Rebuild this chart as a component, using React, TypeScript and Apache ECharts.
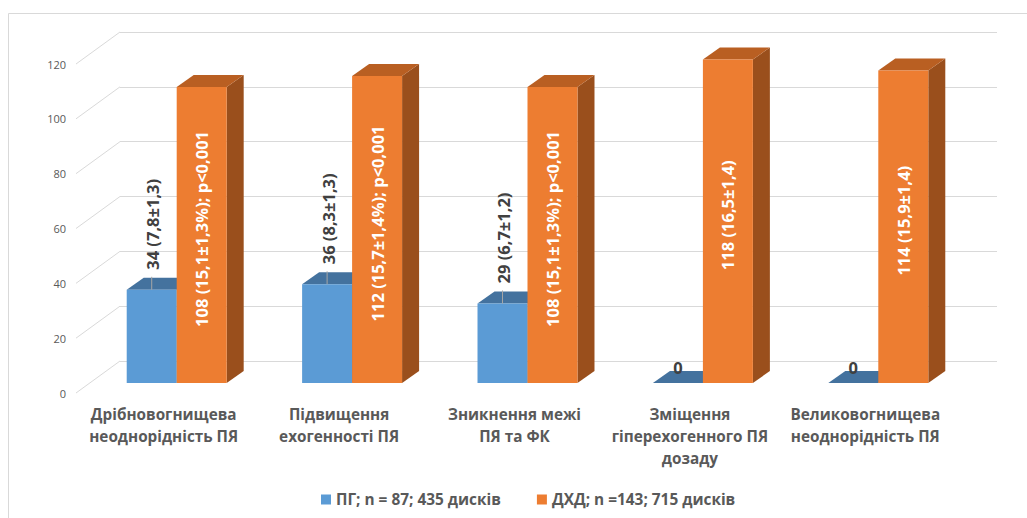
import React, { useEffect, useRef } from 'react';
import * as echarts from 'echarts';

// Ultrasound signs of the nucleus pulposus (ПЯ), counts per group
const categories = [
  'Дрібновогнищева\nнеоднорідність ПЯ',
  'Підвищення\nехогенності ПЯ',
  'Зникнення межі\nПЯ та ФК',
  'Зміщення\nгіперехогенного ПЯ\nдозаду',
  'Великовогнищева\nнеоднорідність ПЯ',
];
const seriesNames = ['ПГ; n = 87; 435 дисків', 'ДХД; n =143; 715 дисків'];
const pgValues = [34, 36, 29, 0, 0];
const pgLabels = ['34 (7,8±1,3)', '36 (8,3±1,3)', '29 (6,7±1,2)', '0', '0'];
const dhdValues = [108, 112, 108, 118, 114];
const dhdLabels = [
  '108 (15,1±1,3%); p<0,001',
  '112 (15,7±1,4%); p<0,001',
  '108 (15,1±1,3%); p<0,001',
  '118 (16,5±1,4)',
  '114 (15,9±1,4)',
];
const yTicks = [0, 20, 40, 60, 80, 100, 120];

const FONT = '"Open Sans", "Noto Sans", sans-serif';
const LABEL_FONT = `bold 16.5px ${FONT}`;
const GRID_LINE = '#d9d9d9';
const AXIS_TEXT = '#595959';

// 3D look: bar depth and wall depth offsets (oblique projection)
const BAR_FRACTION = 0.285;
const BAR_DX = 17;
const BAR_DY = -12;
const WALL_DX = -44;
const WALL_DY = 32;

const PLOT_W = 877;
const PLOT_H = 329;

const BLUE = { front: '#5B9BD5', top: '#44729E', side: '#3A6590' };
const ORANGE = { front: '#ED7D31', top: '#B95F22', side: '#9A4F1C' };

function barRenderer(colors: any, side: number, labels: string[], inside: boolean) {
  return (params: any, api: any) => {
    const idx = api.value(0);
    const v = api.value(1);
    const top = api.coord([idx, v]);
    const base = api.coord([idx, 0]);
    const w = api.size([1, 0])[0] * BAR_FRACTION;
    const x0 = side < 0 ? top[0] - w : top[0];
    const x1 = x0 + w;
    const yT = top[1];
    const yB = base[1];
    const cx = (x0 + x1) / 2;
    const children: any[] = [
      {
        type: 'polygon',
        shape: { points: [[x1, yB], [x1 + BAR_DX, yB + BAR_DY], [x1 + BAR_DX, yT + BAR_DY], [x1, yT]] },
        style: { fill: colors.side },
      },
      {
        type: 'polygon',
        shape: { points: [[x0, yT], [x0 + BAR_DX, yT + BAR_DY], [x1 + BAR_DX, yT + BAR_DY], [x1, yT]] },
        style: { fill: colors.top },
      },
    ];
    if (yB - yT > 0.5) {
      children.push({
        type: 'rect',
        shape: { x: x0, y: yT, width: w, height: yB - yT },
        style: { fill: colors.front },
      });
    }
    const text = labels[params.dataIndex];
    if (inside) {
      // centred on the box, including its depth
      children.push({
        type: 'text',
        x: cx,
        y: (yT + yB) / 2 + BAR_DY / 2,
        rotation: Math.PI / 2,
        style: {
          text,
          fill: '#ffffff',
          font: LABEL_FONT,
          align: 'center',
          verticalAlign: 'middle',
        },
      });
    } else if (v > 0) {
      children.push({
        type: 'line',
        shape: { x1: cx, y1: yT - 13, x2: cx, y2: yT },
        style: { stroke: '#a6a6a6', lineWidth: 1 },
      });
      children.push({
        type: 'text',
        x: cx + 1,
        y: yT - 20,
        rotation: Math.PI / 2,
        style: {
          text,
          fill: '#404040',
          font: LABEL_FONT,
          align: 'left',
          verticalAlign: 'middle',
        },
      });
    } else {
      children.push({
        type: 'text',
        x: cx,
        y: yT - 16,
        style: {
          text,
          fill: '#404040',
          font: LABEL_FONT,
          align: 'center',
          verticalAlign: 'middle',
        },
      });
    }
    return { type: 'group', children };
  };
}

function wallRenderer(params: any, api: any) {
  const p = api.coord([0, api.value(1)]);
  const x = params.coordSys.x;
  return {
    type: 'line',
    shape: { x1: x, y1: p[1], x2: x + WALL_DX, y2: p[1] + WALL_DY },
    style: { stroke: GRID_LINE, lineWidth: 1 },
  };
}

export default function App() {
  const ref = useRef<HTMLDivElement>(null);

  useEffect(() => {
    if (!ref.current) return;
    const chart = echarts.init(ref.current, null, { renderer: 'svg' });

    const valueAxis = (gridIndex: number, extra: any) => ({
      type: 'value',
      gridIndex,
      min: 0,
      max: 120,
      interval: 20,
      axisLine: { show: false },
      axisTick: { show: false },
      ...extra,
    });

    chart.setOption({
      animation: false,
      backgroundColor: '#ffffff',
      graphic: [
        {
          type: 'rect',
          shape: { x: 8.5, y: 13.5, width: 1040, height: 540 },
          style: { fill: 'none', stroke: GRID_LINE, lineWidth: 1 },
          silent: true,
        },
      ],
      grid: [
        // back wall
        { left: 120, top: 32, width: PLOT_W, height: PLOT_H },
        // plane the bars stand in
        { left: 89, top: 54, width: PLOT_W, height: PLOT_H },
        // front edge carrying the axis labels
        { left: 76, top: 64, width: PLOT_W, height: PLOT_H },
      ],
      xAxis: [
        { type: 'category', gridIndex: 0, data: categories, show: false },
        { type: 'category', gridIndex: 1, data: categories, show: false },
        {
          type: 'category',
          gridIndex: 2,
          data: categories,
          axisLine: { show: false },
          axisTick: { show: false },
          axisLabel: {
            interval: 0,
            margin: 10,
            color: AXIS_TEXT,
            fontFamily: FONT,
            fontWeight: 'bold',
            fontSize: 15.3,
            lineHeight: 22,
          },
        },
      ],
      yAxis: [
        valueAxis(0, {
          axisLabel: { show: false },
          splitLine: { show: true, lineStyle: { color: GRID_LINE, width: 1 } },
        }),
        valueAxis(1, { show: false, splitLine: { show: false } }),
        valueAxis(2, {
          splitLine: { show: false },
          axisLabel: { color: AXIS_TEXT, fontFamily: FONT, fontSize: 11, margin: 10 },
        }),
      ],
      legend: {
        data: seriesNames,
        top: 487,
        left: 316,
        icon: 'rect',
        itemWidth: 10,
        itemHeight: 10,
        itemGap: 36,
        textStyle: { color: AXIS_TEXT, fontFamily: FONT, fontWeight: 'bold', fontSize: 15.4 },
      },
      series: [
        {
          type: 'custom',
          xAxisIndex: 0,
          yAxisIndex: 0,
          silent: true,
          clip: false,
          data: yTicks.map((t) => [0, t]),
          renderItem: wallRenderer,
          z: 1,
        },
        {
          name: seriesNames[0],
          type: 'custom',
          xAxisIndex: 1,
          yAxisIndex: 1,
          clip: false,
          itemStyle: { color: BLUE.front },
          data: pgValues.map((v, i) => [i, v]),
          renderItem: barRenderer(BLUE, -1, pgLabels, false),
          z: 3,
        },
        {
          name: seriesNames[1],
          type: 'custom',
          xAxisIndex: 1,
          yAxisIndex: 1,
          clip: false,
          itemStyle: { color: ORANGE.front },
          data: dhdValues.map((v, i) => [i, v]),
          renderItem: barRenderer(ORANGE, 1, dhdLabels, true),
          z: 4,
        },
      ],
    });

    return () => chart.dispose();
  }, []);

  return (
    <div
      ref={ref}
      style={{ position: 'absolute', left: 0, top: 0, width: 1027, height: 518 }}
    />
  );
}
